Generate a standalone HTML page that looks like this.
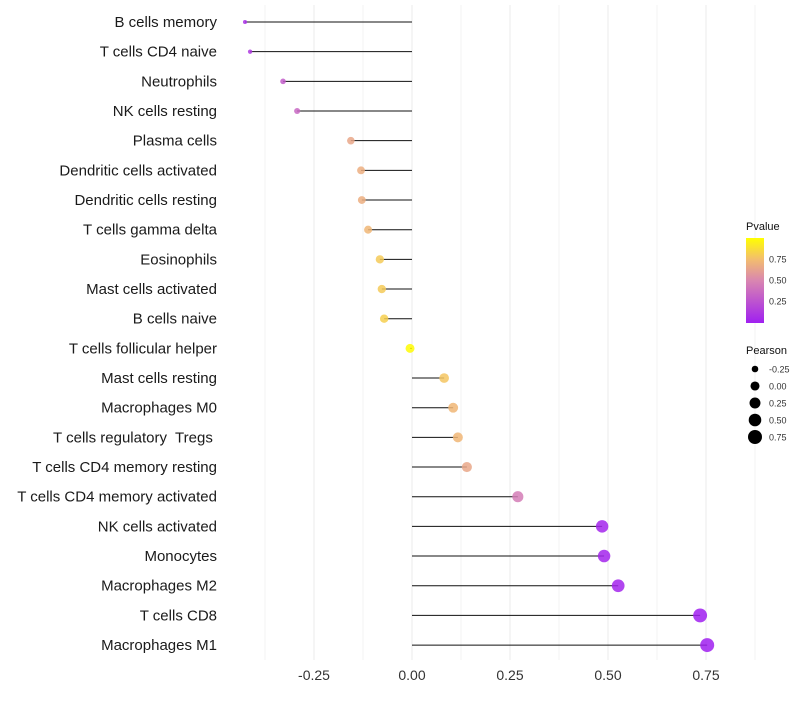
<!DOCTYPE html>
<html><head><meta charset="utf-8"><style>
body{margin:0;background:#fff;font-family:"Liberation Sans",sans-serif}
text{white-space:pre}
</style></head><body>
<svg id="chart" width="800" height="700" xmlns="http://www.w3.org/2000/svg">
<defs><linearGradient id="pg" x1="0" y1="1" x2="0" y2="0">
<stop offset="0" stop-color="#a020f0"/><stop offset="0.5" stop-color="#d986b0"/><stop offset="0.75" stop-color="#f3bd6e"/><stop offset="1" stop-color="#ffff00"/></linearGradient></defs>
<g id="grid"></g><g id="marks"></g><g id="labels"></g><g id="legend"></g>
</svg>
<script>
const categories=["B cells memory","T cells CD4 naive","Neutrophils","NK cells resting","Plasma cells","Dendritic cells activated","Dendritic cells resting","T cells gamma delta","Eosinophils","Mast cells activated","B cells naive","T cells follicular helper","Mast cells resting","Macrophages M0","T cells regulatory  Tregs ","T cells CD4 memory resting","T cells CD4 memory activated","NK cells activated","Monocytes","Macrophages M2","T cells CD8","Macrophages M1"];
const pearson=[-0.426,-0.413,-0.329,-0.293,-0.156,-0.130,-0.128,-0.112,-0.082,-0.077,-0.071,-0.005,0.082,0.105,0.117,0.140,0.270,0.485,0.490,0.526,0.735,0.753];
const pvalue=[0.08,0.12,0.3,0.35,0.65,0.68,0.68,0.72,0.8,0.8,0.82,0.99,0.78,0.72,0.72,0.65,0.45,0.03,0.03,0.03,0.001,0.001];
const xTicks=[-0.25,0,0.25,0.5,0.75];
const xTickLabels=["-0.25","0.00","0.25","0.50","0.75"];
const NS="http://www.w3.org/2000/svg";
const x=v=>412+v*392;
const y=i=>22+i*29.67;
const rad=v=>Math.sqrt(Math.max(1,20.4+38.1*v));
function col(p){const st=[[0,[160,32,240]],[0.5,[217,134,176]],[0.75,[243,189,110]],[1,[255,255,0]]];
for(let k=1;k<st.length;k++){if(p<=st[k][0]){const t=(p-st[k-1][0])/(st[k][0]-st[k-1][0]);const a=st[k-1][1],b=st[k][1];return`rgb(${a.map((c,j)=>Math.round(c+(b[j]-c)*t)).join(",")})`;}}return"rgb(255,255,0)";}
function mk(tag,at,parent){const e=document.createElementNS(NS,tag);for(const k in at)e.setAttribute(k,at[k]);document.getElementById(parent).appendChild(e);return e;}
for(let v=-0.375;v<=0.876;v+=0.125){const g=mk("line",{x1:x(v),x2:x(v),y1:5,y2:660,stroke:"#ebebeb","stroke-width":Math.abs(v/0.25-Math.round(v/0.25))<0.01?1:0.6},"grid");

}
xTicks.forEach((v,i)=>{const t=mk("text",{x:x(v),y:680,"text-anchor":"middle","font-size":14,fill:"#333"},"labels");t.textContent=xTickLabels[i];

});
categories.forEach((c,i)=>{
const l=mk("line",{x1:x(0),x2:x(pearson[i]),y1:y(i),y2:y(i),stroke:"#111","stroke-width":1},"marks");


const p=mk("circle",{cx:x(pearson[i]),cy:y(i),r:rad(pearson[i]),fill:col(pvalue[i]),"fill-opacity":0.85},"marks");


const t=mk("text",{x:217,y:y(i)+5,"text-anchor":"end","font-size":15,fill:"#1a1a1a"},"labels");t.textContent=c;


});
let t=mk("text",{x:746,y:230,"font-size":11,fill:"#111"},"legend");t.textContent="Pvalue";


const bar=mk("rect",{x:746,y:238,width:18,height:85,fill:"url(#pg)"},"legend");


[[0.25,"0.25"],[0.5,"0.50"],[0.75,"0.75"]].forEach(([v,s])=>{const yy=322-v*84;
const tk=mk("text",{x:769,y:yy+3.5,"font-size":9,fill:"#333"},"legend");tk.textContent=s;

});
t=mk("text",{x:746,y:354,"font-size":11,fill:"#111"},"legend");t.textContent="Pearson";


[[-0.25,"-0.25"],[0,"0.00"],[0.25,"0.25"],[0.5,"0.50"],[0.75,"0.75"]].forEach(([v,s],k)=>{const yy=369+k*17;
const c=mk("circle",{cx:755,cy:yy,r:rad(v),fill:"#000"},"legend");


const tk=mk("text",{x:769,y:yy+3.5,"font-size":9,fill:"#333"},"legend");tk.textContent=s;

});
</script>
</body></html>
